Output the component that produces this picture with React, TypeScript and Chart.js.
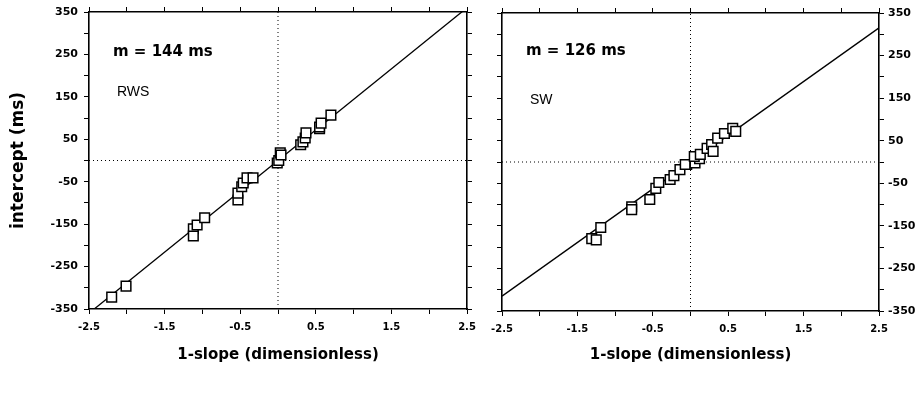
import React, { useEffect, useRef } from "react";
import { Chart, registerables } from "chart.js";
Chart.register(...registerables);

// ---------- data ----------
const xTicks = [-2.5, -2, -1.5, -1, -0.5, 0, 0.5, 1, 1.5, 2, 2.5];
const xTickLabels = ["-2.5", "", "-1.5", "", "-0.5", "", "0.5", "", "1.5", "", "2.5"];
const yTicks = [-350, -300, -250, -200, -150, -100, -50, 0, 50, 100, 150, 200, 250, 300, 350];
const yTickLabels = ["-350", "", "-250", "", "-150", "", "-50", "", "50", "", "150", "", "250", "", "350"];

const rwsX = [-2.2, -2.01, -1.12, -1.12, -1.07, -0.97, -0.53, -0.53, -0.48, -0.46, -0.41, -0.33, -0.01, 0.01, 0.03, 0.04, 0.3, 0.33, 0.36, 0.37, 0.55, 0.55, 0.57, 0.7];
const rwsY = [-322, -296, -161, -178, -152, -135, -93, -77, -62, -53, -41, -41, -6, 0, 18, 13, 37, 44, 53, 65, 75, 79, 88, 107];

const swX = [-1.31, -1.25, -1.19, -0.78, -0.78, -0.54, -0.46, -0.42, -0.27, -0.22, -0.14, -0.05, -0.07, 0.06, 0.12, 0.05, 0.13, 0.22, 0.28, 0.3, 0.36, 0.45, 0.56, 0.6];
const swY = [-180, -183, -154, -105, -112, -88, -62, -48, -41, -32, -18, -6, -6, -2, 8, 13, 18, 32, 41, 25, 56, 67, 79, 72];

const fitX = [-2.5, 2.5];
const rwsFitY = [-360, 360];
const swFitY = [-315, 315];

const vZeroX = [0, 0];
const vZeroY = [-350, 350];
const hZeroX = [-2.5, 2.5];
const hZeroY = [0, 0];

const notes = ["m = 144 ms", "m = 126 ms"];
const subjects = ["RWS", "SW"];
const xTitle = "1-slope (dimensionless)";
const yTitle = "intercept (ms)";

// ---------- helpers ----------
const pts = (xs: number[], ys: number[]) => xs.map((x, i) => ({ x, y: ys[i] }));
const labelFor = (vals: number[], labels: string[], v: number) => {
  const i = vals.findIndex((t) => Math.abs(t - v) < 1e-9);
  return i >= 0 ? labels[i] : "";
};

const tickFont = { family: '"DejaVu Sans", sans-serif', size: 11, weight: "bold" as const };
const xTickFont = { family: '"DejaVu Sans", sans-serif', size: 10, weight: "bold" as const };

const zeroPad = (s: any) => {
  s.paddingLeft = 0;
  s.paddingRight = 0;
  s.paddingTop = 0;
  s.paddingBottom = 0;
};

function makeConfig(p: {
  fitY: number[];
  xs: number[];
  ys: number[];
  note: string;
  subject: string;
  leftW: number;
  rightW: number;
  topH: number;
  bottomH: number;
  leftLabels: boolean;
  rightLabels: boolean;
  yTitleOn: boolean;
  noteDY: number;
  subjDY: number;
}) {
  const border = { display: true, color: "#000", width: 1.6 };
  const grid = { drawOnChartArea: false, drawTicks: true, tickLength: 5, color: "#000", lineWidth: 1 };
  const notesPlugin = {
    id: "notes",
    afterDraw(chart: any) {
      const { ctx, chartArea } = chart;
      ctx.save();
      ctx.fillStyle = "#000";
      ctx.textBaseline = "middle";
      ctx.textAlign = "left";
      ctx.font = 'bold 15px "DejaVu Sans"';
      ctx.fillText(p.note, chartArea.left + 24, chartArea.top + p.noteDY);
      ctx.font = '14px "Liberation Sans"';
      ctx.fillText(p.subject, chartArea.left + 28, chartArea.top + p.subjDY);
      ctx.restore();
    },
  };
  return {
    type: "scatter" as const,
    data: {
      datasets: [
        {
          data: pts(p.xs, p.ys),
          pointStyle: "rect",
          pointRadius: 6.8,
          pointBorderWidth: 1.5,
          pointBackgroundColor: "#fff",
          pointBorderColor: "#000",
        },
        {
          data: pts(fitX, p.fitY),
          showLine: true,
          pointRadius: 0,
          borderColor: "#000",
          borderWidth: 1.3,
        },
        {
          data: pts(vZeroX, vZeroY),
          showLine: true,
          pointRadius: 0,
          borderColor: "#000",
          borderWidth: 1,
          borderDash: [1, 3],
        },
        {
          data: pts(hZeroX, hZeroY),
          showLine: true,
          pointRadius: 0,
          borderColor: "#000",
          borderWidth: 1,
          borderDash: [1, 3],
        },
      ],
    },
    options: {
      responsive: false,
      animation: false as const,
      layout: { padding: 0 },
      plugins: { legend: { display: false }, tooltip: { enabled: false } },
      scales: {
        x: {
          type: "linear",
          position: "bottom",
          min: -2.5,
          max: 2.5,
          afterBuildTicks: (s: any) => {
            s.ticks = xTicks.map((v) => ({ value: v }));
          },
          afterFit: (s: any) => {
            s.height = p.bottomH;
            zeroPad(s);
          },
          ticks: {
            autoSkip: false,
            maxRotation: 0,
            color: "#000",
            font: xTickFont,
            padding: 7,
            callback: (v: any) => labelFor(xTicks, xTickLabels, Number(v)),
          },
          grid,
          border,
          title: {
            display: true,
            text: xTitle,
            color: "#000",
            font: { family: '"DejaVu Sans", sans-serif', size: 15, weight: "bold" },
            padding: { top: 0, bottom: 29 },
          },
        },
        x2: {
          type: "linear",
          axis: "x",
          position: "top",
          min: -2.5,
          max: 2.5,
          afterBuildTicks: (s: any) => {
            s.ticks = xTicks.map((v) => ({ value: v }));
          },
          afterFit: (s: any) => {
            s.height = p.topH;
            zeroPad(s);
          },
          ticks: { autoSkip: false, maxRotation: 0, callback: () => "" },
          grid,
          border,
        },
        y: {
          type: "linear",
          position: "left",
          min: -350,
          max: 350,
          afterBuildTicks: (s: any) => {
            s.ticks = yTicks.map((v) => ({ value: v }));
          },
          afterFit: (s: any) => {
            s.width = p.leftW;
            zeroPad(s);
          },
          ticks: {
            autoSkip: false,
            color: "#000",
            font: tickFont,
            padding: 6,
            callback: (v: any) => (p.leftLabels ? labelFor(yTicks, yTickLabels, Number(v)) : ""),
          },
          grid,
          border,
          title: {
            display: p.yTitleOn,
            text: yTitle,
            color: "#000",
            font: { family: '"DejaVu Sans", sans-serif', size: 17, weight: "bold" },
            padding: { top: 8, bottom: 0 },
          },
        },
        y2: {
          type: "linear",
          axis: "y",
          position: "right",
          min: -350,
          max: 350,
          afterBuildTicks: (s: any) => {
            s.ticks = yTicks.map((v) => ({ value: v }));
          },
          afterFit: (s: any) => {
            s.width = p.rightW;
            zeroPad(s);
          },
          ticks: {
            autoSkip: false,
            color: "#000",
            font: tickFont,
            padding: 4,
            callback: (v: any) => (p.rightLabels ? labelFor(yTicks, yTickLabels, Number(v)) : ""),
          },
          grid,
          border,
        },
      },
    },
    plugins: [notesPlugin],
  };
}

export default function App() {
  const leftRef = useRef<HTMLCanvasElement>(null);
  const rightRef = useRef<HTMLCanvasElement>(null);

  useEffect(() => {
    const left = new Chart(
      leftRef.current as HTMLCanvasElement,
      makeConfig({
        fitY: rwsFitY,
        xs: rwsX,
        ys: rwsY,
        note: notes[0],
        subject: subjects[0],
        leftW: 89,
        rightW: 11,
        topH: 12,
        bottomH: 84,
        leftLabels: true,
        rightLabels: false,
        yTitleOn: true,
        noteDY: 40,
        subjDY: 80,
      }) as any
    );
    const right = new Chart(
      rightRef.current as HTMLCanvasElement,
      makeConfig({
        fitY: swFitY,
        xs: swX,
        ys: swY,
        note: notes[1],
        subject: subjects[1],
        leftW: 24,
        rightW: 44,
        topH: 13,
        bottomH: 82,
        leftLabels: false,
        rightLabels: true,
        yTitleOn: false,
        noteDY: 38,
        subjDY: 87,
      }) as any
    );
    return () => {
      left.destroy();
      right.destroy();
    };
  }, []);

  return (
    <div style={{ position: "absolute", left: 0, top: 0, width: 923, height: 393, background: "#fff" }}>
      <canvas ref={leftRef} width={478} height={393} style={{ position: "absolute", left: 0, top: 0 }} />
      <canvas ref={rightRef} width={445} height={393} style={{ position: "absolute", left: 478, top: 0 }} />
    </div>
  );
}
